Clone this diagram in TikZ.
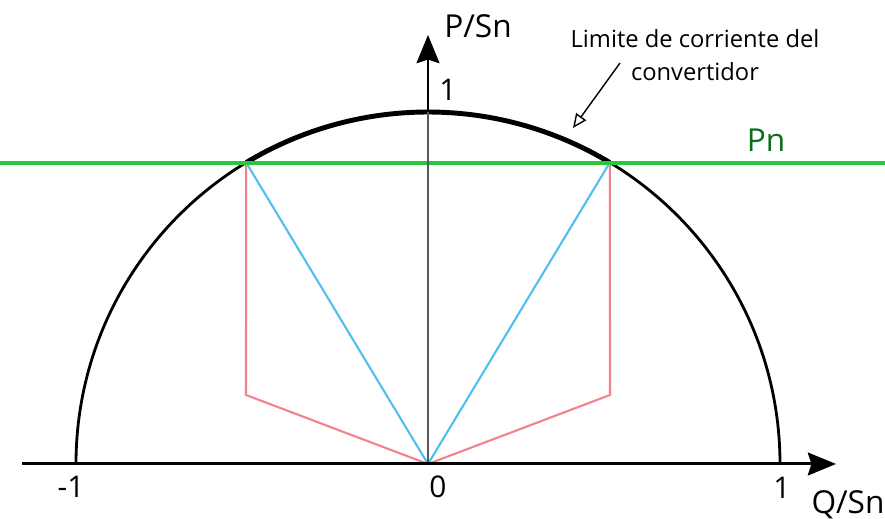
\documentclass[tikz,border=0pt]{standalone}
\usepackage{fontspec}
\setmainfont{Open Sans}
\usetikzlibrary{arrows.meta, positioning, calc}
\definecolor{limgreen}{RGB}{40,200,60}
\definecolor{pngreen}{RGB}{10,110,30}
\definecolor{sblue}{RGB}{80,190,240}
\definecolor{qred}{RGB}{242,130,140}

\begin{document}
\begin{tikzpicture}[x=0.02cm, y=0.02cm,
    axis/.style={line width=1.7pt, -{Stealth[length=16pt, width=13pt, inset=2pt]}},
    lbl/.style={font=\fontsize{17}{20}\selectfont, inner sep=0pt}]
    \useasboundingbox (-428,-55) rectangle (457,464);

    % Points
    \coordinate (O) at (0,0);
    \coordinate (A) at (121.1:352);
    \coordinate (B) at (58.9:352);
    \coordinate (Ar) at (-182,69);
    \coordinate (Br) at (182,69);
    \coordinate (T) at (0,352);

    % Circle
    \draw[line width=1.6pt] (352,0) arc (0:180:352);
    \draw[line width=2.8pt] (B) arc (58.9:121.1:352);

    % Red and blue
    \draw[qred, line width=1.2pt] (O) -- (Ar) -- (A);
    \draw[qred, line width=1.2pt] (O) -- (Br) -- (B);
    \draw[sblue, line width=1.2pt] (O) -- (A);
    \draw[sblue, line width=1.2pt] (O) -- (B);

    % Pn
    \coordinate (gl) at (-428,301);
    \coordinate (gr) at (457,301);
    \draw[limgreen, line width=1.8pt] (gl) -- (gr);

    % Axes
    \coordinate (xl) at (-406,0);
    \coordinate (xr) at (408,0);
    \coordinate (yt) at (0,429);
    \draw[gray!70!black, line width=0.6pt] (O) -- (T);
    \draw[axis] (T) -- (yt);
    \draw[axis] (xl) -- (xr);

    % Labels
    \node[lbl, font=\fontsize{18}{20}\selectfont] (ylab) at (50,438) {P/Sn};
    \node[lbl] (one) at (20,374) {1};
    \node[lbl] (mone) at (-357,-23) {-1};
    \node[lbl] (zero) at (10,-23) {0};
    \node[lbl] (pone) at (354,-24) {1};
    \node[lbl, font=\fontsize{18}{20}\selectfont] (xlab) at (420,-41) {Q/Sn};
    \node[lbl, font=\fontsize{18}{20}\selectfont, text=pngreen] (pn) at (338,324) {Pn};

    % Limite
    \node[align=center, inner sep=0pt, font=\fontsize{13.5}{18.7}\selectfont] (lim) at (267,409)
        {Limite de corriente del\\convertidor};
    \coordinate (ls) at (192,401);
    \coordinate (le) at (145,336);
    \draw[line width=0.8pt, -{Triangle[open, length=8pt, width=7pt]}] (ls) -- (le);
\end{tikzpicture}
\end{document}
